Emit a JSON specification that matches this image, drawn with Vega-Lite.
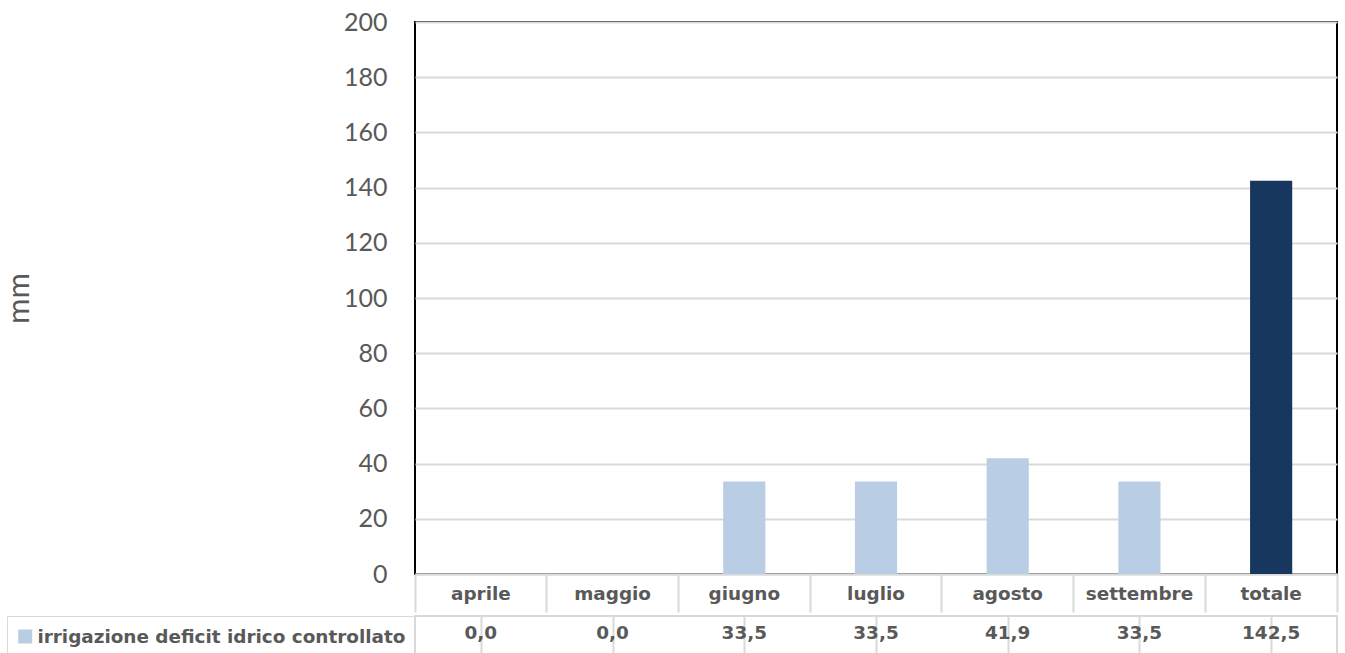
{
  "$schema": "https://vega.github.io/schema/vega-lite/v6.json",
  "padding": {"left": 2, "top": 9, "right": 0, "bottom": 0},
  "background": "white",
  "config": {
    "font": "Lato",
    "locale": {"number": {"decimal": ",", "thousands": ".", "grouping": [3], "currency": ["", " €"]}},
    "concat": {"spacing": 0},
    "axis": {"labelColor": "#595959", "titleColor": "#595959"}
  },
  "data": {"values": [
    {"month": "aprile", "value": 0.0, "series": "irrigazione deficit idrico controllato"},
    {"month": "maggio", "value": 0.0, "series": "irrigazione deficit idrico controllato"},
    {"month": "giugno", "value": 33.5, "series": "irrigazione deficit idrico controllato"},
    {"month": "luglio", "value": 33.5, "series": "irrigazione deficit idrico controllato"},
    {"month": "agosto", "value": 41.9, "series": "irrigazione deficit idrico controllato"},
    {"month": "settembre", "value": 33.5, "series": "irrigazione deficit idrico controllato"},
    {"month": "totale", "value": 142.5, "series": "irrigazione deficit idrico controllato"}
  ]},
  "resolve": {"legend": {"color": "independent"}, "scale": {"color": "independent"}},
  "vconcat": [
    {
      "width": 922,
      "height": 552,
      "view": {"stroke": "#000000", "strokeWidth": 2},
      "mark": {"type": "bar", "width": {"band": 0.32}},
      "encoding": {
        "x": {
          "field": "month", "type": "nominal", "sort": null,
          "scale": {"paddingInner": 0, "paddingOuter": 0},
          "axis": {
            "title": null, "labelAngle": 0, "labelFont": "DejaVu Sans", "labelFontWeight": "bold", "labelFontSize": 18.4,
            "domainColor": "#d9d9d9", "domainWidth": 2,
            "tickColor": "#d9d9d9", "tickWidth": 2, "tickSize": 38,
            "bandPosition": 1, "tickExtra": true,
            "labelPadding": -19, "labelBaseline": "middle"
          }
        },
        "y": {
          "field": "value", "type": "quantitative",
          "scale": {"domain": [0, 200]},
          "axis": {
            "title": "mm", "values": [0, 20, 40, 60, 80, 100, 120, 140, 160, 180, 200],
            "grid": true, "gridColor": "#d9d9d9", "gridWidth": 2,
            "ticks": false, "domain": false,
            "labelFontSize": 25, "labelPadding": 28,
            "titleFontSize": 31, "titleFontWeight": "normal", "titlePadding": 308
          }
        },
        "color": {"condition": {"test": "datum.month === 'totale'", "value": "#17375e"}, "value": "#b9cde5"}
      }
    },
    {
      "width": 922,
      "height": 40,
      "view": {"stroke": "#d9d9d9", "strokeWidth": 2},
      "layer": [
        {
          "mark": {"type": "text", "font": "DejaVu Sans", "fontWeight": "bold", "fontSize": 18.4, "color": "#595959", "dy": -3},
          "encoding": {
            "x": {
              "field": "month", "type": "nominal", "sort": null,
              "scale": {"paddingInner": 0, "paddingOuter": 0},
              "axis": {"title": null, "labels": false, "ticks": false, "domain": false, "grid": true, "gridColor": "#d9d9d9", "gridWidth": 2, "bandPosition": 0}
            },
            "text": {"field": "value", "type": "quantitative", "format": ".1f"}
          }
        },
        {
          "mark": {"type": "point", "filled": true, "opacity": 0},
          "encoding": {
            "x": {"field": "month", "type": "nominal", "sort": null},
            "color": {
              "field": "series", "type": "nominal",
              "scale": {"range": ["#b9cde5"]},
              "legend": {
                "orient": "left", "offset": 0, "title": null,
                "symbolType": "square", "symbolSize": 196, "symbolOpacity": 1, "symbolStrokeWidth": 0,
                "labelFont": "DejaVu Sans", "labelFontSize": 18.4, "labelFontWeight": "bold", "labelColor": "#595959", "labelLimit": 0,
                "strokeColor": "#d9d9d9", "padding": 9, "labelOffset": 3, "clipHeight": 23
              }
            }
          }
        }
      ]
    }
  ]
}
